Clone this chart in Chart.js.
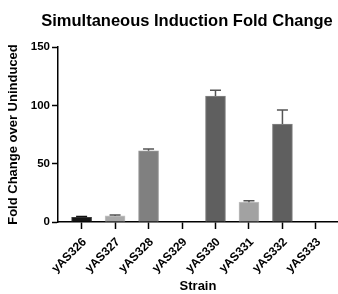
<!DOCTYPE html>
<html>
<head>
<meta charset="utf-8">
<script src="https://cdn.jsdelivr.net/npm/chart.js@4.4.1/dist/chart.umd.min.js"></script>
<style>
html,body{margin:0;padding:0;background:#fff;}
canvas{display:block;}
</style>
</head>
<body>
<canvas id="c" width="338" height="294"></canvas>
<script>
const categories = ['yAS326','yAS327','yAS328','yAS329','yAS330','yAS331','yAS332','yAS333'];
const foldChange = [4, 5.2, 61, 0, 108, 17, 84, 0];
const errorUp = [0.7, 0.8, 1.5, 0, 5, 1.3, 12, 0];
const yTicks = [0, 50, 100, 150];
const chartTitle = 'Simultaneous Induction Fold Change';
const barColors = ['#151515','#a9a9a9','#808080','#808080','#5f5f5f','#a2a2a2','#5f5f5f','#5f5f5f'];
const barBorders = ['#3a3a3a','#c4c4c4','#999999','#999999','#858585','#c0c0c0','#858585','#858585'];

const FONT = '"Liberation Sans", Arial, sans-serif';
Chart.defaults.font.family = FONT;
Chart.defaults.color = '#000';

const errorBars = {
  id: 'errorBars',
  afterDatasetsDraw(chart) {
    const {ctx, scales: {x, y}} = chart;
    ctx.save();
    ctx.lineWidth = 1.5;
    foldChange.forEach((v, i) => {
      const e = errorUp[i];
      if (!e) return;
      const px = x.getPixelForValue(i);
      const y0 = y.getPixelForValue(v);
      const y1 = y.getPixelForValue(v + e);
      ctx.strokeStyle = i === 0 ? '#111' : '#555';
      ctx.beginPath();
      ctx.moveTo(px, y0);
      ctx.lineTo(px, y1);
      ctx.moveTo(px - 5.5, y1);
      ctx.lineTo(px + 5.5, y1);
      ctx.stroke();
    });
    ctx.restore();
  }
};

const titleText = {
  id: 'titleText',
  afterDraw(chart) {
    const {ctx} = chart;
    ctx.save();
    ctx.font = 'bold 16.5px ' + FONT;
    ctx.fillStyle = '#000';
    ctx.textAlign = 'center';
    ctx.textBaseline = 'middle';
    ctx.fillText(chartTitle, 187, 21);
    ctx.restore();
  }
};

new Chart(document.getElementById('c'), {
  type: 'bar',
  data: {
    datasets: [{
      data: categories.map((c, i) => ({x: i, y: foldChange[i]})),
      backgroundColor: barColors,
      borderColor: barBorders,
      borderWidth: 1,
      barThickness: 20
    }]
  },
  options: {
    responsive: false,
    animation: false,
    layout: {padding: {top: 47, left: 0, right: 0, bottom: 0}},
    plugins: {
      legend: {display: false},
      tooltip: {enabled: false},
      title: {display: false}
    },
    scales: {
      x: {
        type: 'linear',
        min: -0.705,
        max: 7.66,
        offset: false,
        afterBuildTicks: (s) => { s.ticks = categories.map((c, i) => ({value: i})); },
        afterFit: (s) => { s.height = 72; },
        grid: {offset: false, drawOnChartArea: false, drawTicks: true, tickLength: 7, tickColor: '#000', tickWidth: 1.5},
        border: {display: true, color: '#000', width: 1.5},
        ticks: {
          autoSkip: false,
          minRotation: 45,
          maxRotation: 45,
          padding: 6,
          labelOffset: 3,
          font: {size: 12, weight: 'bold'},
          callback: (v) => categories[v]
        },
        title: {display: true, text: 'Strain', font: {size: 13, weight: 'bold'}, padding: 0}
      },
      y: {
        min: 0,
        max: 150,
        afterBuildTicks: (s) => { s.ticks = yTicks.map(v => ({value: v})); },
        afterFit: (s) => { s.width = 58; },
        grid: {drawOnChartArea: false, drawTicks: true, tickLength: 6, tickColor: '#000', tickWidth: 1.5},
        border: {display: true, color: '#000', width: 1.5},
        ticks: {padding: 2, font: {size: 11.5, weight: 'bold'}},
        title: {display: true, text: 'Fold Change over Uninduced', font: {size: 13, weight: 'bold'}, padding: {top: 6, bottom: 0}}
      }
    }
  },
  plugins: [errorBars, titleText]
});
</script>
</body>
</html>
